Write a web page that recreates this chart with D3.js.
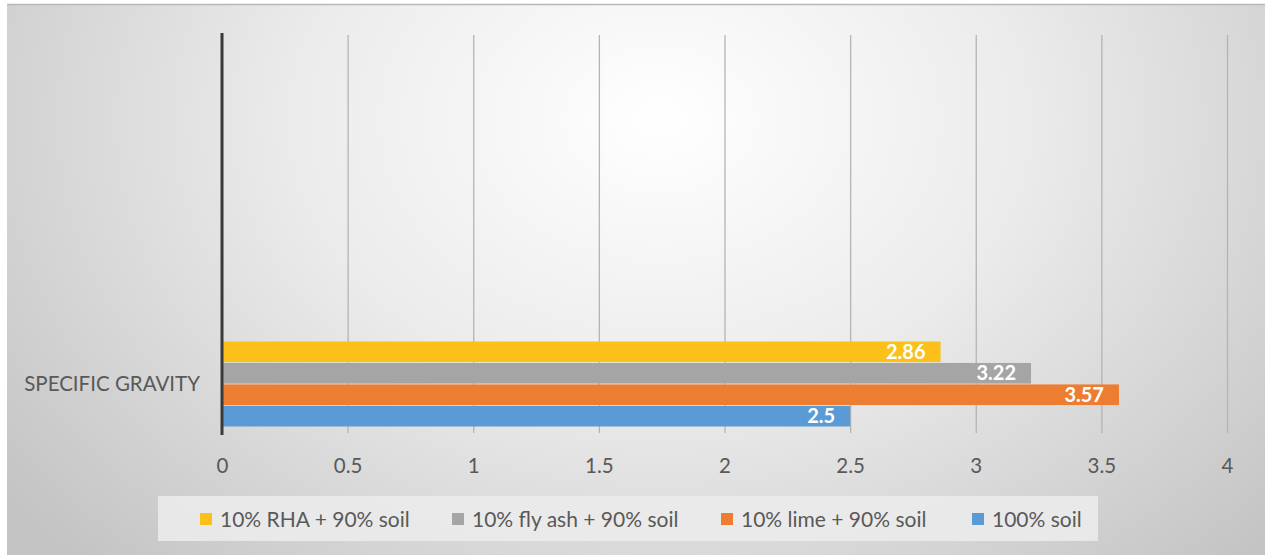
<!DOCTYPE html>
<html>
<head>
<meta charset="utf-8">
<script src="https://cdn.jsdelivr.net/npm/d3@7"></script>
<style>
  html, body { margin: 0; padding: 0; background: #ffffff; }
  svg { display: block; }
</style>
</head>
<body>
<svg id="chart" width="1265" height="555"></svg>
<script>
// Specific gravity of soil mixes
const categories = ["SPECIFIC GRAVITY"];
const seriesNames = ["10% RHA + 90% soil", "10% fly ash + 90% soil", "10% lime + 90% soil", "100% soil"];
const seriesValues = [2.86, 3.22, 3.57, 2.5];
const seriesColors = ["#fbc01a", "#a5a5a5", "#ed7d31", "#5b9bd5"];
const tickValues = [0, 0.5, 1, 1.5, 2, 2.5, 3, 3.5, 4];
const tickLabels = ["0", "0.5", "1", "1.5", "2", "2.5", "3", "3.5", "4"];

const svg = d3.select("#chart");
const W = 1265, H = 555;
const font = "Lato, 'Open Sans', sans-serif";

// Frame background with soft radial shading
const defs = svg.append("defs");
const grad = defs.append("radialGradient")
  .attr("id", "bg").attr("gradientUnits", "userSpaceOnUse")
  .attr("cx", 660).attr("cy", 120).attr("r", 820)
  .attr("gradientTransform", "translate(660,120) scale(1,0.75) translate(-660,-120)");
grad.append("stop").attr("offset", "0%").attr("stop-color", "#ffffff");
grad.append("stop").attr("offset", "45%").attr("stop-color", "#ebebeb");
grad.append("stop").attr("offset", "100%").attr("stop-color", "#c4c4c4");

svg.append("rect").attr("x", 7).attr("y", 4).attr("width", W - 7).attr("height", H - 4)
  .attr("fill", "url(#bg)");
svg.append("line").attr("x1", 7).attr("x2", W).attr("y1", 4.5).attr("y2", 4.5)
  .attr("stroke", "#b8b8b8").attr("stroke-width", 1.5);

const plot = { left: 222, right: 1227, top: 35, bottom: 433 };

const x = d3.scaleLinear().domain([0, 4]).range([plot.left, plot.right]);
// bars of the single category sit in the lower part of the plot
const y = d3.scaleBand().domain(seriesNames).range([341.5, 426.5]).paddingInner(0.04);

// Gridlines and tick labels
const xAxis = d3.axisBottom(x).tickValues(tickValues)
  .tickFormat((d, i) => tickLabels[i]).tickSize(-(plot.bottom - plot.top)).tickPadding(25);
const gx = svg.append("g").attr("transform", `translate(0,${plot.bottom})`).call(xAxis);
gx.select(".domain").remove();
gx.selectAll(".tick line").attr("stroke", "#b4b4b4").attr("stroke-width", 1.3);
gx.selectAll(".tick text").attr("fill", "#595959").attr("font-family", font)
  .attr("font-size", 20.5);

// Bars
svg.append("g").selectAll("rect").data(seriesNames).join("rect")
  .attr("x", x(0))
  .attr("y", d => y(d))
  .attr("width", (d, i) => x(seriesValues[i]) - x(0))
  .attr("height", y.bandwidth())
  .attr("fill", (d, i) => seriesColors[i]);

// Value labels
svg.append("g").selectAll("text").data(seriesNames).join("text")
  .attr("x", (d, i) => x(seriesValues[i]) - 15)
  .attr("y", d => y(d) + y.bandwidth() / 2)
  .attr("dy", "0.36em")
  .attr("text-anchor", "end")
  .attr("fill", "#ffffff").attr("font-weight", "bold")
  .attr("font-family", font).attr("font-size", 20)
  .text((d, i) => seriesValues[i]);

// Value axis line at zero
svg.append("line").attr("x1", x(0)).attr("x2", x(0))
  .attr("y1", plot.top - 2).attr("y2", plot.bottom + 2)
  .attr("stroke", "#3a3a3a").attr("stroke-width", 3);

// Category label
svg.append("g").selectAll("text").data(categories).join("text")
  .attr("x", 200).attr("y", 384)
  .attr("dy", "0.35em").attr("text-anchor", "end")
  .attr("fill", "#595959").attr("font-family", font).attr("font-size", 20.5)
  .text(d => d);

// Legend
const legend = svg.append("g");
legend.append("rect").attr("x", 158).attr("y", 496).attr("width", 940).attr("height", 45)
  .attr("fill", "#ebebeb").attr("opacity", 0.9);
const legendX = [200, 452, 721, 972];
const items = legend.selectAll("g").data(seriesNames).join("g")
  .attr("transform", (d, i) => `translate(${legendX[i]},519)`);
items.append("rect").attr("x", 0).attr("y", -6).attr("width", 12).attr("height", 12)
  .attr("fill", (d, i) => seriesColors[i]);
items.append("text").attr("x", 20).attr("y", 0).attr("dy", "0.36em")
  .attr("fill", "#595959").attr("font-family", font).attr("font-size", 21)
  .text(d => d);
</script>
</body>
</html>
